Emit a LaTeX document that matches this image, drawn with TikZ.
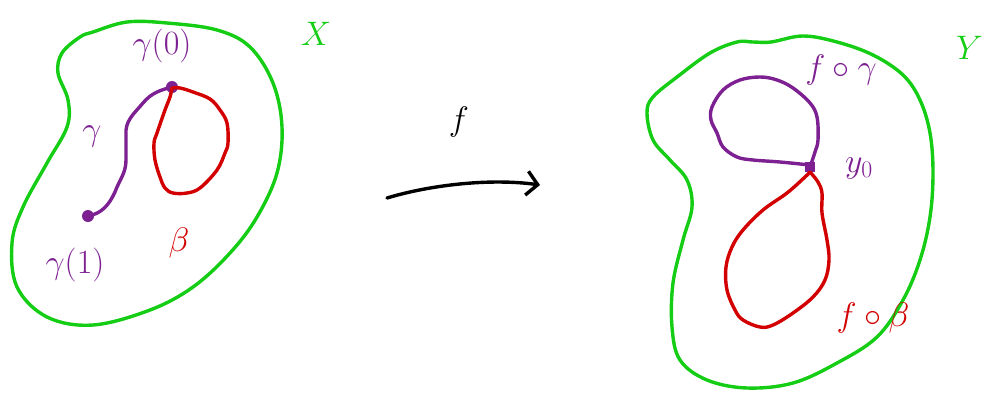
\RequirePackage{fix-cm}
\documentclass[tikz,border=0pt]{standalone}
\usetikzlibrary{arrows.meta}
\definecolor{hgreen}{RGB}{20,205,20}
\definecolor{hpurple}{RGB}{125,32,145}
\definecolor{hred}{RGB}{210,0,0}
\begin{document}
\begin{tikzpicture}[x=1pt,y=-1pt,
  pen/.style={line width=3.4pt,line cap=round,line join=round},
  lbl/.style={inner sep=0pt,font=\fontsize{34}{38}\selectfont},
  dotnode/.style={circle,fill=hpurple,inner sep=0pt,minimum size=12pt}]
\useasboundingbox (0,0) rectangle (985,392);
% left space X
\draw[pen,hgreen] plot[smooth cycle,tension=0.6] coordinates {
 (93,32) (127,22) (167,23) (217,30) (250,47) (273,83) (282,127) (277,173)
 (257,217) (230,253) (193,287) (150,310) (93,325) (47,317) (17,287) (12,243)
 (23,207) (47,163) (67,127) (68,100) (58,73) (62,53) (80,37)};
\node[lbl,hgreen] (X) at (316,34) {$X$};
% points
\node[dotnode] (g0) at (172,87) {};
\node[dotnode] (g1) at (88,216) {};
% gamma path
\draw[pen,hpurple] (g0.center) to[out=195,in=50] (143,103) to[out=230,in=95] (126,135)
  to[out=270,in=90] (126,160) to[out=270,in=70] (115,192) to[out=245,in=10] (g1.center);
% beta loop
\draw[pen,hred] plot[smooth,tension=0.6] coordinates {
 (172,88) (180,88) (193,92) (210,99) (220,110) (227,123) (228,143) (225,153)
 (217,170) (200,188) (187,193) (173,193) (165,188) (160,177) (155,160) (154,143)
 (157,133) (165,110) (170,97) (172,88)};
\node[lbl,hpurple] (l0) at (162,46) {$\gamma(0)$};
\node[lbl,hpurple] (lg) at (92,136) {$\gamma$};
\node[lbl,hpurple] (l1) at (75,265) {$\gamma(1)$};
\node[lbl,hred] (lb) at (179,243) {$\beta$};
% map f
\coordinate (a1) at (387,198);
\coordinate (a2) at (540,185);
\draw[pen,black,-{Straight Barb[length=11pt,width=24pt]}] (a1) .. controls (430,185) and (490,178) .. (a2);
\node[lbl,black] (lf) at (459,122) {$f$};
% right space Y
\draw[pen,hgreen] plot[smooth cycle,tension=0.6] coordinates {
 (753,42) (771,42) (803,36) (837,42) (873,55) (903,75) (920,100) (930,133)
 (933,173) (930,217) (920,260) (903,300) (877,337) (837,363) (793,383) (747,388)
 (707,380) (680,360) (672,327) (673,283) (683,240) (692,207) (687,180) (670,160)
 (653,140) (647,113) (653,97) (677,77) (710,53) (737,42)};
\node[lbl,hgreen,anchor=east] (Y) at (983,48) {$Y$};
\node[fill=hpurple,inner sep=0pt,minimum size=10pt] (y0) at (810,167) {};
% f o gamma loop
\draw[pen,hpurple] plot[smooth,tension=0.6] coordinates {
 (810,167) (815,152) (818,140) (817,117) (810,103) (793,88) (777,80) (760,77)
 (740,80) (723,90) (712,107) (711,120) (717,133) (723,147) (737,157) (753,160)
 (780,162) (810,165)};
% f o beta loop
\draw[pen,hred] plot[smooth,tension=0.6] coordinates {
 (810,172) (818,182) (822,193) (822,213) (827,240) (829,260) (825,280) (813,297)
 (793,313) (773,325) (760,327) (743,320) (735,310) (727,290) (726,267) (732,247)
 (743,230) (763,210) (787,193) (805,177) (810,172)};
\node[lbl,hpurple] (lfg) at (841,70) {$f\circ\gamma$};
\node[lbl,hpurple] (ly0) at (859,168) {$y_0$};
\node[lbl,hred] (lfb) at (873,318) {$f\circ\beta$};
\end{tikzpicture}
\end{document}
